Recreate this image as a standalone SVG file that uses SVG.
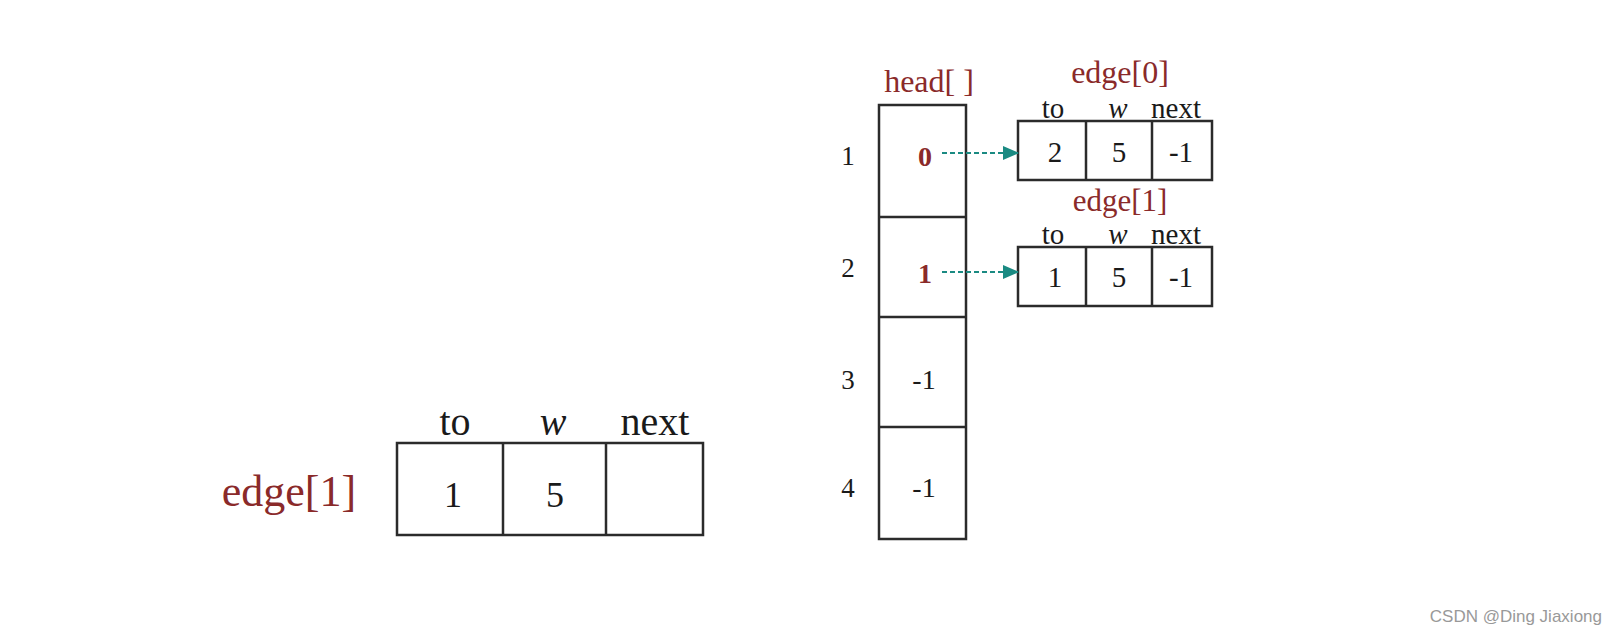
<svg xmlns="http://www.w3.org/2000/svg" width="1618" height="633" viewBox="0 0 1618 633">
<defs>
<style>
.box{fill:#fff;stroke:#2b2b2b;stroke-width:2.5}
.t{font-family:"Liberation Serif",serif;fill:#1a1a1a;text-anchor:middle}
.red{font-family:"Liberation Serif",serif;fill:#8a2a2a;text-anchor:middle}
.it{font-style:italic}
.conn{stroke:#1a8a82;stroke-width:2.2;stroke-dasharray:5 3;fill:none}
</style>
<marker id="ah" markerWidth="16" markerHeight="14" refX="15" refY="7" orient="auto" markerUnits="userSpaceOnUse">
<path d="M0,0 L16,7 L0,14 Z" fill="#1a8a82"/>
</marker>
</defs>
<rect width="1618" height="633" fill="#fff"/>

<g id="edge1-big">
<text class="red" x="289" y="506" font-size="44">edge[1]</text>
<text class="t" x="455" y="435" font-size="40">to</text>
<text class="t it" x="553" y="435" font-size="40">w</text>
<text class="t" x="655" y="435" font-size="40">next</text>
<rect class="box" x="397" y="443" width="306" height="92"/>
<line class="box" x1="503" y1="443" x2="503" y2="535"/>
<line class="box" x1="606" y1="443" x2="606" y2="535"/>
<text class="t" x="453" y="507" font-size="36">1</text>
<text class="t" x="555" y="507" font-size="36">5</text>
</g>

<g id="head">
<text class="red" x="929" y="92" font-size="32">head[ ]</text>
<rect class="box" x="879" y="105" width="87" height="434"/>
<line class="box" x1="879" y1="217" x2="966" y2="217"/>
<line class="box" x1="879" y1="317" x2="966" y2="317"/>
<line class="box" x1="879" y1="427" x2="966" y2="427"/>
<text class="t" x="848" y="165" font-size="27">1</text>
<text class="t" x="848" y="277" font-size="27">2</text>
<text class="t" x="848" y="389" font-size="27">3</text>
<text class="t" x="848" y="497" font-size="27">4</text>
<text class="red" x="925" y="166" font-size="28" font-weight="bold">0</text>
<text class="red" x="925" y="283" font-size="28" font-weight="bold">1</text>
<text class="t" x="924" y="389" font-size="28">-1</text>
<text class="t" x="924" y="497" font-size="28">-1</text>
</g>

<g id="edge0">
<text class="red" x="1120" y="83" font-size="32">edge[0]</text>
<text class="t" x="1053" y="118" font-size="29">to</text>
<text class="t it" x="1118" y="118" font-size="29">w</text>
<text class="t" x="1176" y="118" font-size="29">next</text>
<rect class="box" x="1018" y="121" width="194" height="59"/>
<line class="box" x1="1086" y1="121" x2="1086" y2="180"/>
<line class="box" x1="1152" y1="121" x2="1152" y2="180"/>
<text class="t" x="1055" y="162" font-size="29">2</text>
<text class="t" x="1119" y="162" font-size="29">5</text>
<text class="t" x="1181" y="162" font-size="29">-1</text>
</g>

<g id="edge1">
<text class="red" x="1120" y="211" font-size="31">edge[1]</text>
<text class="t" x="1053" y="244" font-size="29">to</text>
<text class="t it" x="1118" y="244" font-size="29">w</text>
<text class="t" x="1176" y="244" font-size="29">next</text>
<rect class="box" x="1018" y="247" width="194" height="59"/>
<line class="box" x1="1086" y1="247" x2="1086" y2="306"/>
<line class="box" x1="1152" y1="247" x2="1152" y2="306"/>
<text class="t" x="1055" y="287" font-size="29">1</text>
<text class="t" x="1119" y="287" font-size="29">5</text>
<text class="t" x="1181" y="287" font-size="29">-1</text>
</g>

<g id="connectors">
<line class="conn" x1="942" y1="153" x2="1018" y2="153" marker-end="url(#ah)"/>
<line class="conn" x1="942" y1="272" x2="1018" y2="272" marker-end="url(#ah)"/>
</g>

<text x="1602" y="622" font-family="Liberation Sans,sans-serif" font-size="17" fill="#999" text-anchor="end">CSDN @Ding Jiaxiong</text>
</svg>
